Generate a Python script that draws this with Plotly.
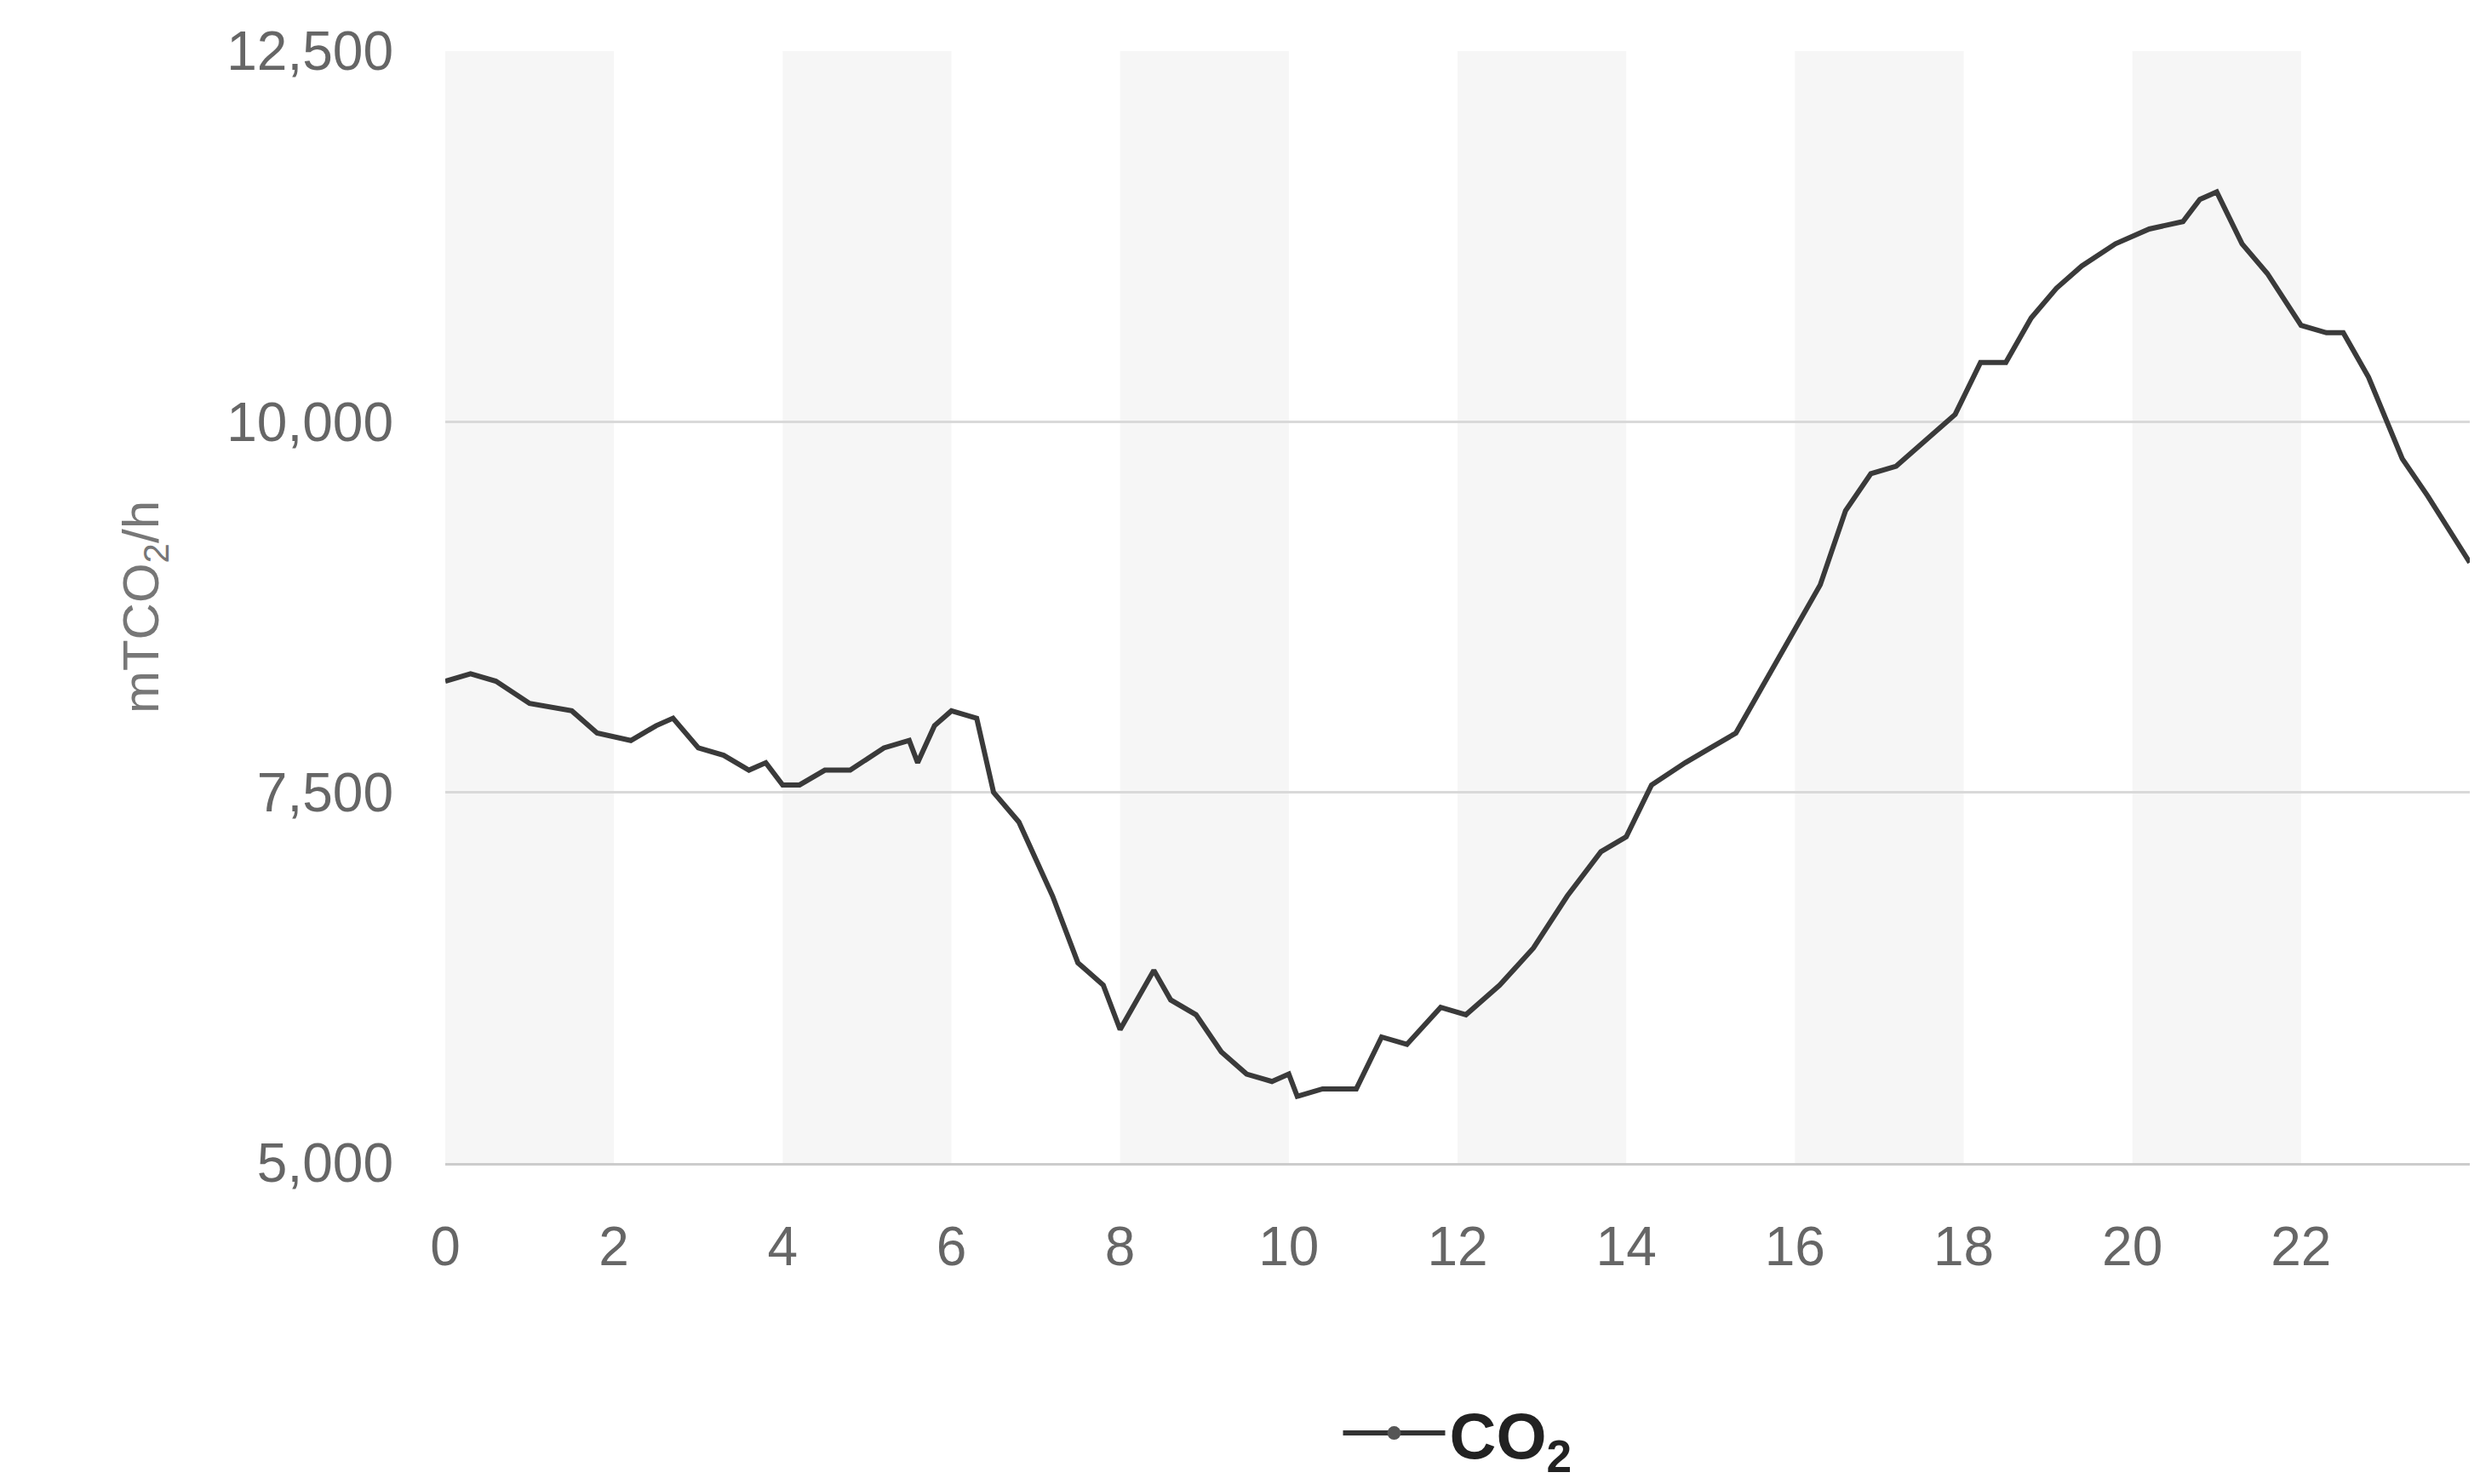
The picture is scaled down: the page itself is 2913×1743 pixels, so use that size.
import plotly.graph_objects as go

hours = [0,0.3,0.6,1,1.5,1.8,2.2,2.5,2.7,3,3.3,3.6,3.8,4.0,4.2,4.5,4.8,5.2,5.5,5.6,5.8,6.0,6.3,6.5,6.8,7.2,7.5,7.8,8.0,8.2,8.4,8.6,8.9,9.2,9.5,9.8,10,10.1,10.4,10.8,11.1,11.4,11.8,12.1,12.5,12.9,13.3,13.7,14.0,14.3,14.7,15.0,15.3,15.6,16.0,16.3,16.6,16.9,17.2,17.5,17.9,18.2,18.5,18.8,19.1,19.4,19.8,20.2,20.6,20.8,21.0,21.3,21.6,22.0,22.3,22.5,22.8,23.2,23.5,24]
co2 = [8250,8300,8250,8100,8050,7900,7850,7950,8000,7800,7750,7650,7700,7550,7550,7650,7650,7800,7850,7700,7950,8050,8000,7500,7300,6800,6350,6200,5900,6100,6300,6100,6000,5750,5600,5550,5600,5450,5500,5500,5850,5800,6050,6000,6200,6450,6800,7100,7200,7550,7700,7800,7900,8200,8600,8900,9400,9650,9700,9850,10050,10400,10400,10700,10900,11050,11200,11300,11350,11500,11550,11200,11000,10650,10600,10600,10300,9750,9500,9050]
xticks = list(range(0,24,2))
yticks = [5000,7500,10000,12500]

fig = go.Figure()
fig.add_trace(go.Scatter(x=hours, y=co2, mode="lines", showlegend=False,
                         line=dict(color="#3a3a3a", width=6)))
fig.add_trace(go.Scatter(x=[None], y=[None], mode="lines+markers", name="<b>CO<sub>2</sub></b>",
                         line=dict(color="#333", width=6), marker=dict(size=30, color="#555")))
shapes = []
for h in range(0, 24, 4):
    shapes.append(dict(type="rect", xref="x", yref="paper", x0=h, x1=h+2, y0=0, y1=1,
                       fillcolor="#f6f6f6", line=dict(width=0), layer="below"))
fig.update_layout(
    width=2913, height=1743, paper_bgcolor="white", plot_bgcolor="white",
    margin=dict(l=515, r=20, t=52, b=337), shapes=shapes,
    font=dict(family="Liberation Sans, Arial", color="#666"),
    xaxis=dict(range=[0,24], tickvals=xticks, tickfont=dict(size=64), showgrid=False,
               showline=True, linecolor="#ccc", linewidth=3, zeroline=False, ticks="",
               ticklabelstandoff=40),
    yaxis=dict(range=[5000,12500], tickvals=yticks, tickformat=",", tickfont=dict(size=64),
               gridcolor="#d9d9d9", gridwidth=3, zeroline=False, showline=False,
               ticklabelstandoff=60,
               title=dict(text="mTCO<sub>2</sub>/h", font=dict(size=60, color="#777"), standoff=60)),
    legend=dict(orientation="h", x=0.5, xanchor="center", y=-0.2, yanchor="top",
                font=dict(size=76, color="#222"), itemwidth=120),
)
fig.write_html("out.html")
